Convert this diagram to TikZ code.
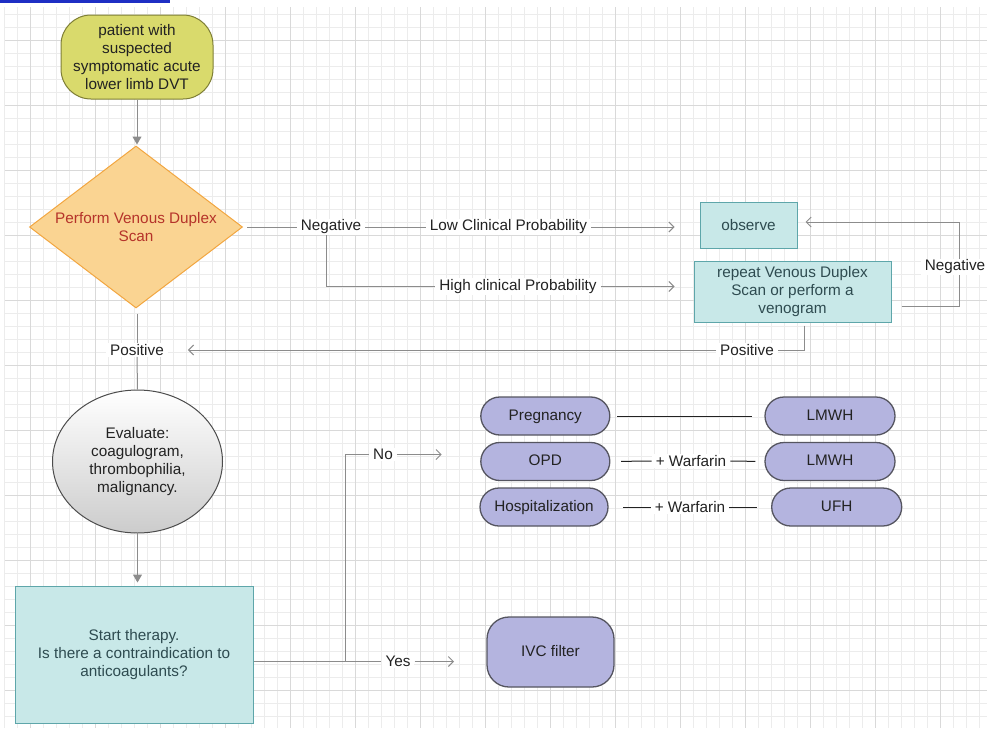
\documentclass[tikz,border=0pt]{standalone}
\usepackage{fontspec}
\setmainfont{Liberation Sans}
\usetikzlibrary{arrows.meta,shapes.geometric,calc}
\definecolor{gmin}{HTML}{ECECEC}
\definecolor{gmaj}{HTML}{D9D9D9}
\definecolor{barblue}{HTML}{1F2FC4}
\definecolor{startfill}{HTML}{D9DA6C}
\definecolor{startdraw}{HTML}{7E7E35}
\definecolor{diafill}{HTML}{FAD492}
\definecolor{diadraw}{HTML}{F2A640}
\definecolor{diatext}{HTML}{B5332A}
\definecolor{tealfill}{HTML}{C8E8E8}
\definecolor{tealdraw}{HTML}{5EA6AA}
\definecolor{tealtext}{HTML}{2E4B50}
\definecolor{pillfill}{HTML}{B4B4DF}
\definecolor{pilldraw}{HTML}{555560}
\definecolor{conng}{HTML}{8C8C8C}
\definecolor{txt}{HTML}{222222}
\begin{document}
\begin{tikzpicture}[x=1pt,y=-1pt,
  font=\fontsize{15.3}{18}\selectfont,
  startn/.style={draw=startdraw,line width=1pt,fill=startfill,rounded corners=30pt,
    minimum width=152pt,minimum height=84pt,inner sep=0pt,align=center,text=txt},
  dia/.style={diamond,draw=diadraw,line width=1pt,fill=diafill,aspect=1.315,
    minimum width=213pt,minimum height=162pt,
    inner sep=0pt,align=center,text=diatext},
  tealbox/.style={draw=tealdraw,line width=1pt,fill=tealfill,align=center,text=tealtext,inner sep=0pt},
  evalnode/.style={ellipse,draw=black!70,line width=1pt,top color=white,bottom color=black!20,
    minimum width=170pt,minimum height=143pt,inner sep=0pt,align=center,text=txt},
  pill/.style={draw=pilldraw,line width=1.3pt,fill=pillfill,rounded corners=19pt,
    minimum width=129pt,minimum height=38pt,inner sep=0pt,text=txt,
    text height=11pt,text depth=3pt},
  lbl/.style={fill=white,inner xsep=4pt,inner ysep=1pt,text=txt},
  conn/.style={draw=conng,line width=1pt},
  oarrow/.style={conn,-{Straight Barb[length=5pt,width=10pt]}},
  farrow/.style={conn,-{Triangle[length=8pt,width=9pt]}},
  bline/.style={draw=txt,line width=1pt}
]
\useasboundingbox (0,0) rectangle (987,728);
\fill[white] (0,0) rectangle (987,728);
% grid
\foreach \i in {0,...,75} \draw[gmin,line width=1pt] ({4.3+13*\i},7) -- ({4.3+13*\i},728);
\foreach \j in {0,...,54} \draw[gmin,line width=1pt] (5,{14.3+13*\j}) -- (987,{14.3+13*\j});
\foreach \i in {0,...,14} \draw[gmaj,line width=1pt] ({30.3+65*\i},7) -- ({30.3+65*\i},728);
\foreach \j in {0,...,10} \draw[gmaj,line width=1pt] (5,{40.3+65*\j}) -- (987,{40.3+65*\j});
\fill[barblue] (0,0) rectangle (170,3);

% nodes
\node[startn] (start) at (137,57) {patient with\\suspected\\symptomatic acute\\lower limb DVT};
\node[dia] (diamond) at (136,227) {Perform Venous Duplex\\Scan};
\node[tealbox,minimum width=97pt,minimum height=46pt] (obs) at (748.5,225) {observe};
\node[tealbox,minimum width=197pt,minimum height=61pt] (rep) at (792.5,291.5) {repeat Venous Duplex\\Scan or perform a\\venogram};
\node[evalnode] (eval) at (137.5,461.5) {Evaluate:\\coagulogram,\\thrombophilia,\\malignancy.};
\node[tealbox,minimum width=238pt,minimum height=137pt] (box) at (134,654.5) {Start therapy.\\Is there a contraindication to\\anticoagulants?};
\node[pill] (preg) at (545.3,416) {Pregnancy};
\node[pill] (opd) at (545.3,461.5) {OPD};
\node[pill,minimum width=128pt] (hosp) at (544,507) {Hospitalization};
\node[pill,minimum width=130pt] (lm1) at (830,416) {LMWH};
\node[pill,minimum width=130pt] (lm2) at (830,461.5) {LMWH};
\node[pill,minimum width=130pt] (ufh) at (836.7,507) {UFH};
\node[pill,minimum width=127pt,minimum height=70pt,rounded corners=22pt] (ivc) at (550.5,652) {IVC filter};

% labels
\node[lbl] (neg) at (331,227) {Negative};
\node[lbl] (low) at (508.5,227) {Low Clinical Probability};
\node[lbl] (high) at (518,286.5) {High clinical Probability};
\node[lbl] (negR) at (955,267) {Negative};
\node[lbl] (posR) at (747,350) {Positive};
\node[lbl] (posL) at (137,350) {Positive};
\node[lbl] (no) at (383,454.5) {No};
\node[lbl] (yes) at (398,661.5) {Yes};
\node[lbl] (w1) at (691,461) {+ Warfarin};
\node[lbl] (w2) at (690,507) {+ Warfarin};
\coordinate (J) at (345,661.5);
\coordinate (noend) at (441.7,454.5);
\coordinate (yesend) at (454,661.5);

% connectors
\draw[farrow,shorten >=1pt] (start.south) -- (start.south |- diamond.north);
\draw[conn,shorten <=4pt] (diamond.east) -- (neg.west);
\draw[conn] (neg.east) -- (low.west);
\draw[oarrow,shorten >=25pt] (low.east) -- (low.east -| obs.west);
\draw[conn] ([xshift=-5pt]neg.south) |- (high.west);
\draw[oarrow,shorten >=19pt] (high.east) -- (high.east -| rep.west);
\draw[conn] ([xshift=10pt,yshift=-14.5pt]rep.east) -| ([xshift=4pt]negR.south);
\draw[oarrow,shorten >=8pt] ([xshift=4pt]negR.north) |- ([yshift=3pt]obs.east);
\draw[conn] ([xshift=12pt,yshift=-3pt]rep.south) |- (posR.east);
\draw[oarrow,shorten >=20pt] (posR.west) -- (posL.east);
\draw[conn,shorten <=5pt] (diamond.south -| posL.north) -- (posL.north);
\draw[conn] (posL.south) -- (eval.north);
\draw[farrow,shorten >=3pt] (eval.south) -- (eval.south |- box.north);
\draw[conn] ([yshift=-7pt]box.east) -- (J);
\draw[conn] (J) |- (no.west);
\draw[oarrow] (no.east) -- (noend);
\draw[conn] (J) -- (yes.west);
\draw[oarrow] (yes.east) -- (yesend);
\draw[bline,shorten <=6.7pt,shorten >=12.7pt] (preg.east) -- (lm1.west);
\draw[bline,shorten <=10.7pt] (opd.east) -- (w1.west);
\draw[bline,shorten >=9pt] (w1.east) -- (lm2.west);
\draw[bline,shorten <=14.4pt] (hosp.east) -- (w2.west);
\draw[bline,shorten >=14pt] (w2.east) -- (ufh.west);
\end{tikzpicture}
\end{document}
